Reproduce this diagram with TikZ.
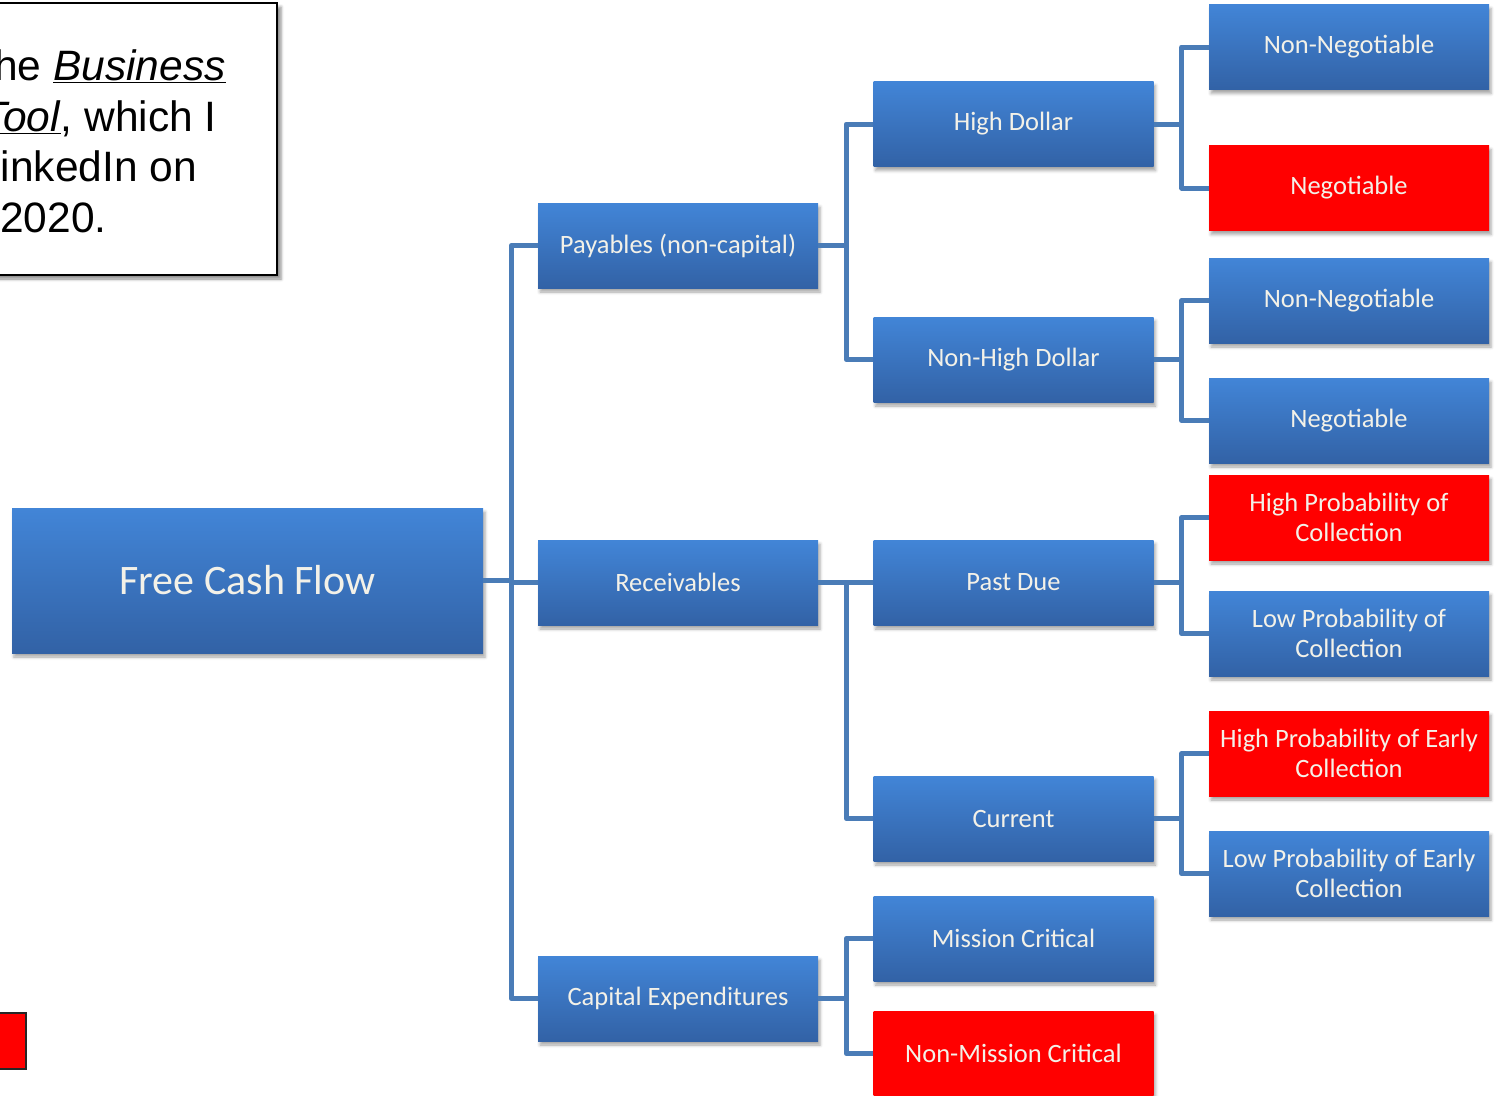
\documentclass[tikz,border=0pt]{standalone}
\usepackage{fontspec}
\setmainfont{Carlito}
\newfontfamily\arialf{Liberation Sans}
\usetikzlibrary{shadows.blur}
\definecolor{bluetop}{RGB}{66,133,215}
\definecolor{bluebot}{RGB}{50,98,166}
\definecolor{linec}{RGB}{74,124,183}
\definecolor{txtc}{RGB}{243,241,232}
\definecolor{redc}{RGB}{255,0,0}
\tikzset{
  bluebox/.style={rectangle, minimum width=280, minimum height=85, inner sep=0pt,
    top color=bluetop, bottom color=bluebot, text=txtc, align=center,
    font=\fontsize{26.5}{29.5}\selectfont,
    blur shadow={shadow xshift=2pt, shadow yshift=-4pt, shadow blur radius=3pt, shadow opacity=35}},
  redbox/.style={bluebox, top color=redc, bottom color=redc},
  conn/.style={draw=linec, line width=5pt, line join=round},
  notetxt/.style={anchor=base west, inner sep=0pt, font=\arialf\fontsize{42.5}{50}\selectfont}
}
\begin{document}
\begin{tikzpicture}[x=1pt,y=-1pt]
\useasboundingbox (0,0) rectangle (1495,1095);
\begin{scope}
\clip (0,0) rectangle (1495,1095);
% note box
\draw[fill=white, draw=black, line width=1.6pt,
  blur shadow={shadow xshift=4pt, shadow yshift=-4pt, shadow blur radius=3pt, shadow opacity=45}]
  (-20,3) rectangle (277,275);
\node[notetxt] (t1) at (-18,80) {the \underline{\textit{Business}}};
\node[notetxt] (t2) at (-19,131) {\underline{\textit{Tool}}, which I};
\node[notetxt] (t3) at (-23,181) {LinkedIn on};
\node[notetxt] (t4) at (0,232) {2020.};
% red legend box
\draw[fill=redc, draw=black!85, line width=1.6pt] (-20,1013) rectangle (26,1069);
\coordinate (legend) at (3,1041);

% root
\node[bluebox, minimum width=471, minimum height=145, font=\fontsize{42}{50}\selectfont] (fcf) at (247.5,580.5) {Free Cash Flow};
% level 1
\node[bluebox] (pay) at (678,245.5) {Payables (non-capital)};
\node[bluebox] (rec) at (678,582.5) {Receivables};
\node[bluebox] (cap) at (678,998.5) {Capital Expenditures};
% level 2
\node[bluebox] (hd) at (1013.5,124) {High Dollar};
\node[bluebox] (nhd) at (1013.5,359.5) {Non-High Dollar};
\node[bluebox] (pd) at (1013.5,582.5) {Past Due};
\node[bluebox] (cur) at (1013.5,818.5) {Current};
\node[bluebox] (mc) at (1013.5,938.5) {Mission Critical};
\node[redbox] (nmc) at (1013.5,1053.5) {Non-Mission Critical};
% level 3
\node[bluebox] (nn1) at (1349,47) {Non-Negotiable};
\node[redbox] (ng1) at (1349,188) {Negotiable};
\node[bluebox] (nn2) at (1349,300.5) {Non-Negotiable};
\node[bluebox] (ng2) at (1349,420.5) {Negotiable};
\node[redbox] (hpc) at (1349,517.5) {High Probability of\\Collection};
\node[bluebox] (lpc) at (1349,633.5) {Low Probability of\\Collection};
\node[redbox] (hpe) at (1349,753.5) {High Probability of Early\\Collection};
\node[bluebox] (lpe) at (1349,873.5) {Low Probability of Early\\Collection};
\end{scope}

% connectors
\draw[conn] (fcf.east) -- ++(28,0) |- (pay.west);
\draw[conn] (fcf.east) -- ++(28,0) |- (rec.west);
\draw[conn] (fcf.east) -- ++(28,0) |- (cap.west);
\draw[conn] (pay.east) -- ++(28,0) |- (hd.west);
\draw[conn] (pay.east) -- ++(28,0) |- (nhd.west);
\draw[conn] (rec.east) -- ++(28,0) |- (pd.west);
\draw[conn] (rec.east) -- ++(28,0) |- (cur.west);
\draw[conn] (cap.east) -- ++(28,0) |- (mc.west);
\draw[conn] (cap.east) -- ++(28,0) |- (nmc.west);
\draw[conn] (hd.east) -- ++(28,0) |- (nn1.west);
\draw[conn] (hd.east) -- ++(28,0) |- (ng1.west);
\draw[conn] (nhd.east) -- ++(28,0) |- (nn2.west);
\draw[conn] (nhd.east) -- ++(28,0) |- (ng2.west);
\draw[conn] (pd.east) -- ++(28,0) |- (hpc.west);
\draw[conn] (pd.east) -- ++(28,0) |- (lpc.west);
\draw[conn] (cur.east) -- ++(28,0) |- (hpe.west);
\draw[conn] (cur.east) -- ++(28,0) |- (lpe.west);
\end{tikzpicture}
\end{document}
